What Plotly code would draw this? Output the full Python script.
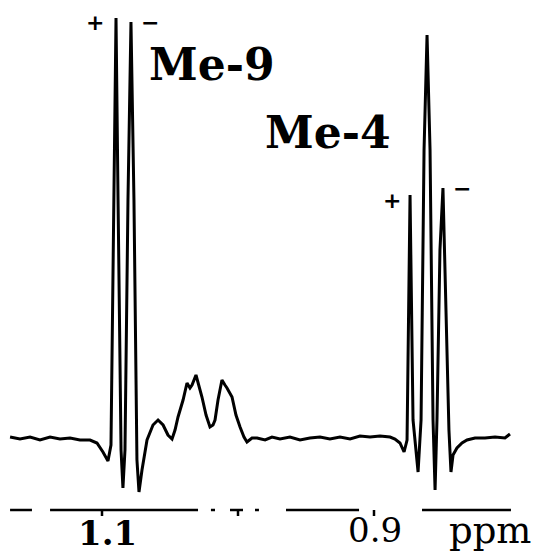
import plotly.graph_objects as go

# chemical shift (ppm) and intensity (arbitrary units)
ppm = [1.1676, 1.1603, 1.1529, 1.1456, 1.1382, 1.1309, 1.1235, 1.1162, 1.1088, 1.1037,
       1.0993, 1.0956, 1.0934, 1.0912, 1.0897, 1.0882, 1.0860, 1.0846, 1.0831, 1.0809,
       1.0787, 1.0765, 1.0743, 1.0728, 1.0706, 1.0669, 1.0625, 1.0588, 1.0551, 1.0515,
       1.0485, 1.0463, 1.0441, 1.0404, 1.0375, 1.0353, 1.0338, 1.0309, 1.0287, 1.0265,
       1.0235, 1.0206, 1.0184, 1.0169, 1.0147, 1.0118, 1.0096, 1.0081, 1.0044, 1.0015,
       0.9985, 0.9956, 0.9934, 0.9897, 0.9860, 0.9801, 0.9750, 0.9691, 0.9618, 0.9544,
       0.9471, 0.9397, 0.9324, 0.9250, 0.9176, 0.9103, 0.9029, 0.8956, 0.8882, 0.8846,
       0.8809, 0.8779, 0.8757, 0.8735, 0.8713, 0.8676, 0.8654, 0.8632, 0.8610, 0.8588,
       0.8566, 0.8551, 0.8537, 0.8515, 0.8493, 0.8471, 0.8449, 0.8434, 0.8419, 0.8390,
       0.8353, 0.8316, 0.8257, 0.8184, 0.8110, 0.8037, 0.8000]
intensity = [0, -2, 0, -3, 0, -2, -1, -3, -3, -6,
             -15, -24, -8, 237, 419, 237, -13, -51, -13, 237,
             415, 237, -23, -55, -33, -3, 12, 17, 12, 2,
             -2, 7, 20, 37, 54, 49, 52, 62, 52, 40,
             22, 10, 12, 17, 37, 57, 52, 49, 40, 22,
             10, 0, -5, -1, -1, -3, 0, -2, 0, -3,
             -1, 0, -2, 0, -2, 1, 0, 1, 0, -2,
             -6, -15, -3, 242, 17, -35, 17, 287, 402, 287,
             17, -53, 17, 187, 249, 137, 7, -35, -18, -11,
             -6, -3, -1, -1, 0, -1, 3]

# broken axis line segments (ppm) of the scanned figure
axis_segments = [(1.1676, 1.1515), (1.1382, 1.0294), (1.0199, 1.0169),
                 (1.0059, 0.9963), (0.9875, 0.9846), (0.9647, 0.9110), (0.8647, 0.7993)]
tick_vals = [1.1, 1.0, 0.9]
axis_level = -73
tick_len = 6

fig = go.Figure()
fig.add_trace(go.Scatter(x=ppm, y=intensity, mode="lines",
                         line=dict(color="black", width=3), hoverinfo="skip"))

ax_x, ax_y = [], []
for a, b in axis_segments:
    ax_x += [a, b, None]
    ax_y += [axis_level, axis_level, None]
for t in tick_vals:
    ax_x += [t, t, None]
    ax_y += [axis_level, axis_level - tick_len, None]
fig.add_trace(go.Scatter(x=ax_x, y=ax_y, mode="lines",
                         line=dict(color="black", width=2.5), hoverinfo="skip"))

serif = "DejaVu Serif"
ann = [
    dict(x=1.0191, y=373, text="<b>Me-9</b>", size=44, fam=serif),
    dict(x=0.9338, y=305, text="<b>Me-4</b>", size=44, fam=serif),
    dict(x=1.1051, y=415, text="<b>+</b>", size=22, fam="DejaVu Sans"),
    dict(x=1.0647, y=415, text="<b>\u2212</b>", size=22, fam="DejaVu Sans"),
    dict(x=0.8868, y=237, text="<b>+</b>", size=22, fam="DejaVu Sans"),
    dict(x=0.8353, y=249, text="<b>\u2212</b>", size=22, fam="DejaVu Sans"),
    dict(x=1.0956, y=-96, text="<b>1.1</b>", size=34, fam=serif),
    dict(x=0.8993, y=-93, text="0.9", size=34, fam=serif),
    dict(x=0.8147, y=-93, text="ppm", size=37, fam=serif),
]
for a in ann:
    fig.add_annotation(x=a["x"], y=a["y"], xref="x", yref="y", text=a["text"],
                       showarrow=False, xanchor="center", yanchor="middle",
                       font=dict(family=a["fam"], size=a["size"], color="black"))

fig.update_layout(
    width=554, height=554,
    margin=dict(l=0, r=0, t=0, b=0),
    paper_bgcolor="white", plot_bgcolor="white",
    showlegend=False,
    xaxis=dict(range=[1.175, 0.76765], visible=False, fixedrange=True),
    yaxis=dict(range=[-117, 437], visible=False, fixedrange=True),
)
fig.write_html("out.html", config={"displayModeBar": False},
               post_script="document.body.style.margin='0px';document.body.style.overflow='hidden';")
